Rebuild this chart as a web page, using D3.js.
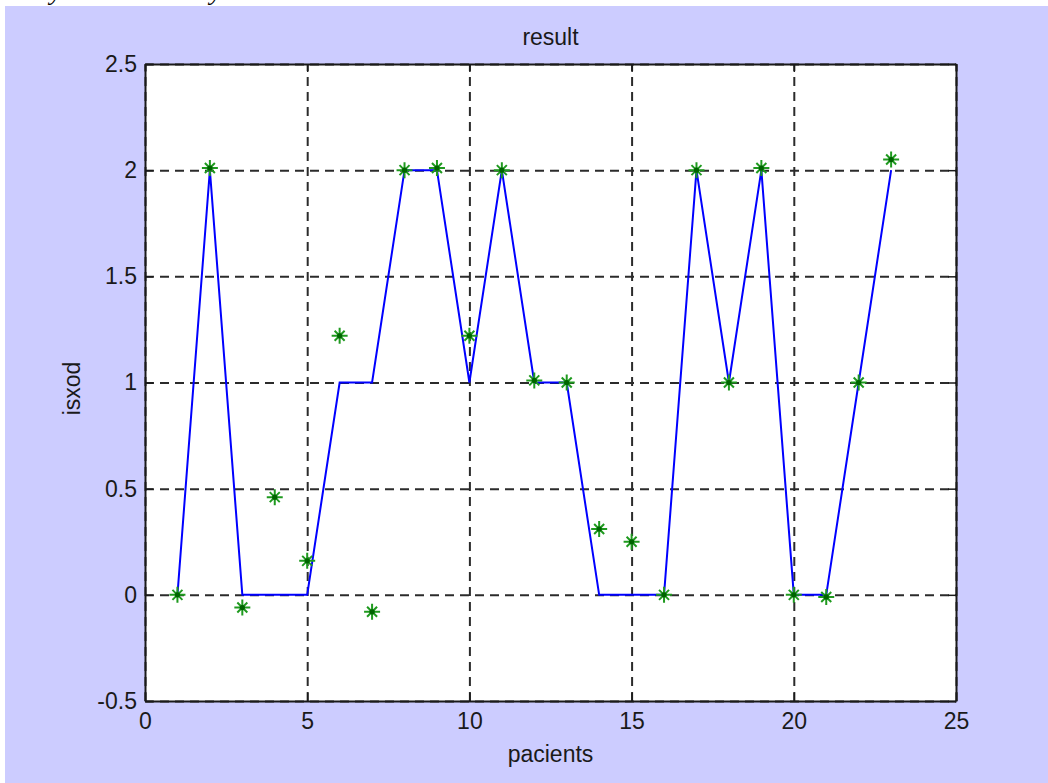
<!DOCTYPE html>
<html>
<head>
<meta charset="utf-8">
<script src="https://cdn.jsdelivr.net/npm/d3@7"></script>
<style>
  html, body { margin: 0; padding: 0; background: #ffffff; }
  svg { display: block; }
  text { font-family: "Liberation Sans", Arial, sans-serif; fill: #1a1a1a; }
</style>
</head>
<body>
<svg id="chart" width="1048" height="783"></svg>
<script>
// ---- data ----
const patients = [1,2,3,4,5,6,7,8,9,10,11,12,13,14,15,16,17,18,19,20,21,22,23];
const predicted = [0,2,0,0,0,1,1,2,2,1,2,1,1,0,0,0,2,1,2,0,0,1,2];
const actual = [0,2.01,-0.06,0.46,0.16,1.22,-0.08,2.0,2.01,1.22,2.0,1.01,1.0,0.31,0.25,0.0,2.0,1.0,2.01,0.0,-0.01,1.0,2.05];
const xTicks = [0,5,10,15,20,25];
const yTicks = [-0.5,0,0.5,1,1.5,2,2.5];
const titleText = "result";
const xLabelText = "pacients";
const yLabelText = "isxod";

(function(){
const svg = d3.select("#chart");
const W = 1048, H = 783;
const pL = 145, pR = 956, pT = 64, pB = 701;
const fs = 23;

// background: white strips + lavender figure
svg.append("rect").attr("x",0).attr("y",0).attr("width",W).attr("height",H).attr("fill","#ffffff");
svg.append("rect").attr("x",5).attr("y",6).attr("width",W-5).attr("height",H-6).attr("fill","#ccccff");
// cut-off document text at very top
svg.append("text").attr("x",50).attr("y",0).style("font-family","'Liberation Serif', 'Times New Roman', serif")
  .style("font-style","italic").style("font-size","26px").style("fill","#000").text("y");
svg.append("text").attr("x",210).attr("y",0).style("font-family","'Liberation Serif', 'Times New Roman', serif")
  .style("font-style","italic").style("font-size","26px").style("fill","#000").text("y");

const x = d3.scaleLinear().domain([0,25]).range([pL,pR]);
const y = d3.scaleLinear().domain([-0.5,2.5]).range([pB,pT]);

// axes area
svg.append("rect").attr("x",pL).attr("y",pT).attr("width",pR-pL).attr("height",pB-pT).attr("fill","#ffffff");

// grid
const gridColor = "#2b2b2b";
const gx = svg.append("g").attr("transform",`translate(0,${pB})`)
  .call(d3.axisBottom(x).tickValues(xTicks).tickSize(-(pB-pT)).tickFormat(""));
gx.select(".domain").remove();
gx.selectAll("line").attr("stroke",gridColor).attr("stroke-width",2).attr("stroke-dasharray","9,6");
const gy = svg.append("g").attr("transform",`translate(${pL},0)`)
  .call(d3.axisLeft(y).tickValues(yTicks).tickSize(-(pR-pL)).tickFormat(""));
gy.select(".domain").remove();
gy.selectAll("line").attr("stroke",gridColor).attr("stroke-width",2).attr("stroke-dasharray","9,6");

// predicted line
const line = d3.line().x((d,i)=>x(patients[i])).y(d=>y(d));
svg.append("path").datum(predicted).attr("d",line).attr("fill","none")
  .attr("stroke","#0000ff").attr("stroke-width",2).attr("stroke-linejoin","miter");

// actual values: star markers
const stars = svg.append("g").selectAll("g").data(actual).join("g")
  .attr("transform",(d,i)=>`translate(${x(patients[i])},${y(d)})`);
const a = 8, b = 5;
stars.append("path")
  .attr("d",`M${-a},0L${a},0M0,${-a}L0,${a}M${-b},${-b}L${b},${b}M${-b},${b}L${b},${-b}`)
  .attr("stroke","#1f9a1f").attr("stroke-width",2).attr("fill","none");
stars.append("circle").attr("r",2.6).attr("fill","#006400");

// box + ticks + labels
const axColor = "#1a1a1a";
const xb = svg.append("g").attr("transform",`translate(0,${pB})`)
  .call(d3.axisBottom(x).tickValues(xTicks).tickSizeInner(-8).tickSizeOuter(0).tickPadding(12).tickFormat(d3.format("d")));
const xt = svg.append("g").attr("transform",`translate(0,${pT})`)
  .call(d3.axisTop(x).tickValues(xTicks).tickSizeInner(-8).tickSizeOuter(0).tickFormat(""));
const yl = svg.append("g").attr("transform",`translate(${pL},0)`)
  .call(d3.axisLeft(y).tickValues(yTicks).tickSizeInner(-8).tickSizeOuter(0).tickPadding(8).tickFormat(d=>String(d)));
const yr = svg.append("g").attr("transform",`translate(${pR},0)`)
  .call(d3.axisRight(y).tickValues(yTicks).tickSizeInner(-8).tickSizeOuter(0).tickFormat(""));
[xb,xt,yl,yr].forEach(g=>{
  g.select(".domain").attr("stroke",axColor).attr("stroke-width",2);
  g.selectAll("line").attr("stroke",axColor).attr("stroke-width",1.5);
  g.selectAll("text").style("font-size",fs+"px").style("font-family","'Liberation Sans', Arial, sans-serif").attr("fill","#1a1a1a");
});

// title & labels
svg.append("text").attr("x",(pL+pR)/2).attr("y",45).attr("text-anchor","middle").style("font-size",fs+"px").text(titleText);
svg.append("text").attr("x",(pL+pR)/2).attr("y",762).attr("text-anchor","middle").style("font-size",fs+"px").text(xLabelText);
svg.append("text").attr("transform",`translate(80,${(pT+pB)/2+6}) rotate(-90)`).attr("text-anchor","middle").style("font-size",fs+"px").text(yLabelText);
})();
</script>
</body>
</html>
